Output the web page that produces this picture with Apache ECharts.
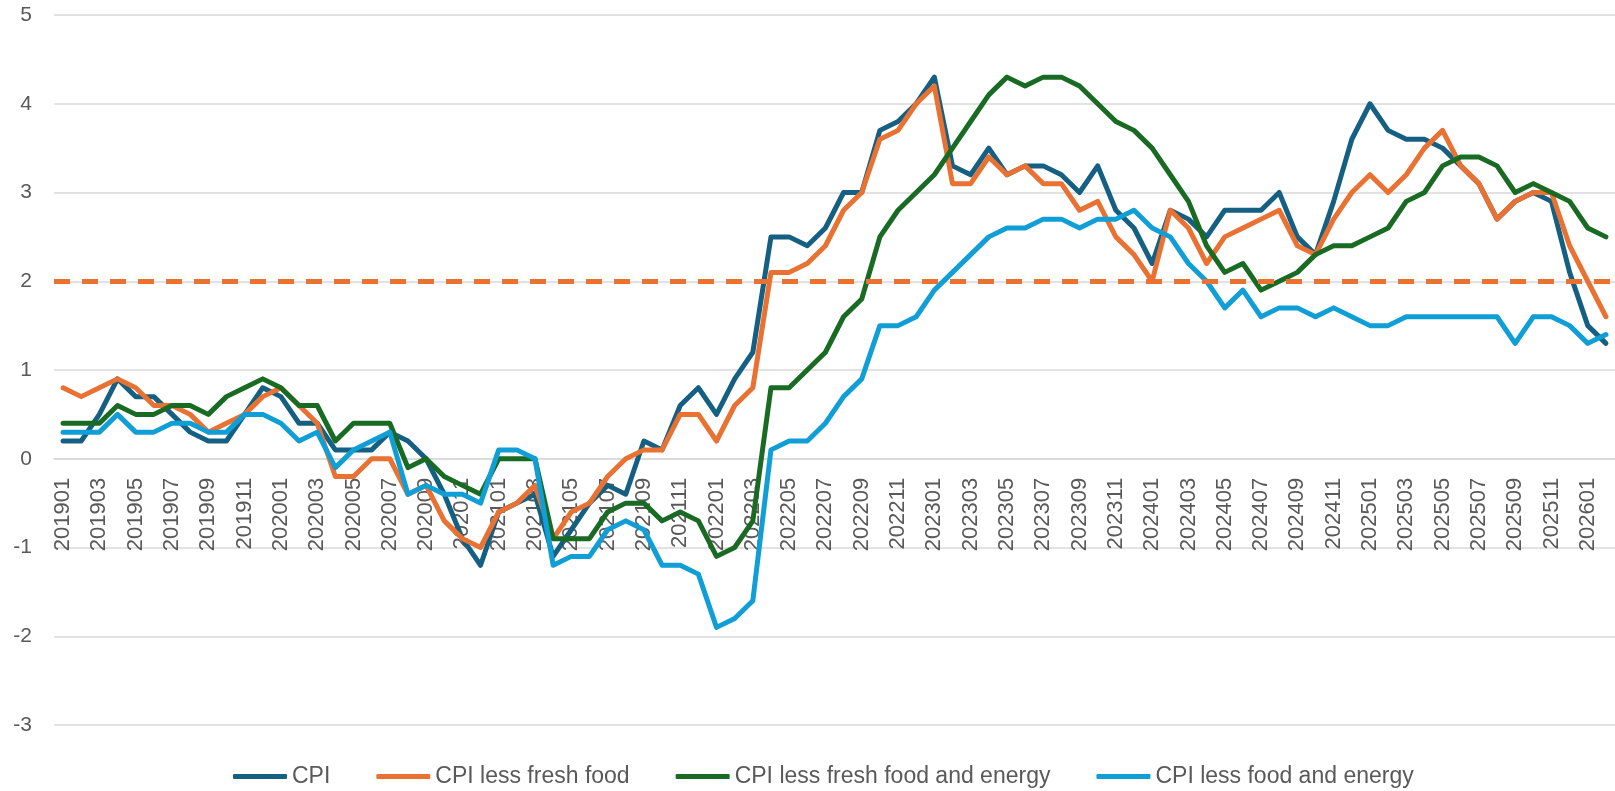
<!DOCTYPE html>
<html>
<head>
<meta charset="utf-8">
<title>CPI</title>
<script src="https://cdn.jsdelivr.net/npm/echarts@6/dist/echarts.min.js"></script>
<style>
  html, body { margin: 0; padding: 0; background: #fff; }
  #main { width: 1615px; height: 791px; }
</style>
</head>
<body>
<div id="main"></div>
<script>
// months 201901 .. 202602
var months = [];
for (var y = 2019; y <= 2026; y++) {
  for (var m = 1; m <= 12; m++) {
    if (y === 2026 && m > 2) break;
    months.push('' + y + (m < 10 ? '0' + m : m));
  }
}

var cpi = [
  0.2, 0.2, 0.5, 0.9, 0.7, 0.7, 0.5, 0.3, 0.2, 0.2, 0.5, 0.8,
  0.7, 0.4, 0.4, 0.1, 0.1, 0.1, 0.3, 0.2, 0.0, -0.4, -0.9, -1.2,
  -0.6, -0.5, -0.4, -1.1, -0.8, -0.5, -0.3, -0.4, 0.2, 0.1, 0.6, 0.8,
  0.5, 0.9, 1.2, 2.5, 2.5, 2.4, 2.6, 3.0, 3.0, 3.7, 3.8, 4.0,
  4.3, 3.3, 3.2, 3.5, 3.2, 3.3, 3.3, 3.2, 3.0, 3.3, 2.8, 2.6,
  2.2, 2.8, 2.7, 2.5, 2.8, 2.8, 2.8, 3.0, 2.5, 2.3, 2.9, 3.6,
  4.0, 3.7, 3.6, 3.6, 3.5, 3.3, 3.1, 2.7, 2.9, 3.0, 2.9, 2.1,
  1.5, 1.3
];
var lessFresh = [
  0.8, 0.7, 0.8, 0.9, 0.8, 0.6, 0.6, 0.5, 0.3, 0.4, 0.5, 0.7,
  0.8, 0.6, 0.4, -0.2, -0.2, 0.0, 0.0, -0.4, -0.3, -0.7, -0.9, -1.0,
  -0.6, -0.5, -0.3, -0.9, -0.6, -0.5, -0.2, 0.0, 0.1, 0.1, 0.5, 0.5,
  0.2, 0.6, 0.8, 2.1, 2.1, 2.2, 2.4, 2.8, 3.0, 3.6, 3.7, 4.0,
  4.2, 3.1, 3.1, 3.4, 3.2, 3.3, 3.1, 3.1, 2.8, 2.9, 2.5, 2.3,
  2.0, 2.8, 2.6, 2.2, 2.5, 2.6, 2.7, 2.8, 2.4, 2.3, 2.7, 3.0,
  3.2, 3.0, 3.2, 3.5, 3.7, 3.3, 3.1, 2.7, 2.9, 3.0, 3.0, 2.4,
  2.0, 1.6
];
var lessFreshEnergy = [
  0.4, 0.4, 0.4, 0.6, 0.5, 0.5, 0.6, 0.6, 0.5, 0.7, 0.8, 0.9,
  0.8, 0.6, 0.6, 0.2, 0.4, 0.4, 0.4, -0.1, 0.0, -0.2, -0.3, -0.4,
  0.0, 0.0, 0.0, -0.9, -0.9, -0.9, -0.6, -0.5, -0.5, -0.7, -0.6, -0.7,
  -1.1, -1.0, -0.7, 0.8, 0.8, 1.0, 1.2, 1.6, 1.8, 2.5, 2.8, 3.0,
  3.2, 3.5, 3.8, 4.1, 4.3, 4.2, 4.3, 4.3, 4.2, 4.0, 3.8, 3.7,
  3.5, 3.2, 2.9, 2.4, 2.1, 2.2, 1.9, 2.0, 2.1, 2.3, 2.4, 2.4,
  2.5, 2.6, 2.9, 3.0, 3.3, 3.4, 3.4, 3.3, 3.0, 3.1, 3.0, 2.9,
  2.6, 2.5
];
var lessFoodEnergy = [
  0.3, 0.3, 0.3, 0.5, 0.3, 0.3, 0.4, 0.4, 0.3, 0.3, 0.5, 0.5,
  0.4, 0.2, 0.3, -0.1, 0.1, 0.2, 0.3, -0.4, -0.3, -0.4, -0.4, -0.5,
  0.1, 0.1, 0.0, -1.2, -1.1, -1.1, -0.8, -0.7, -0.8, -1.2, -1.2, -1.3,
  -1.9, -1.8, -1.6, 0.1, 0.2, 0.2, 0.4, 0.7, 0.9, 1.5, 1.5, 1.6,
  1.9, 2.1, 2.3, 2.5, 2.6, 2.6, 2.7, 2.7, 2.6, 2.7, 2.7, 2.8,
  2.6, 2.5, 2.2, 2.0, 1.7, 1.9, 1.6, 1.7, 1.7, 1.6, 1.7, 1.6,
  1.5, 1.5, 1.6, 1.6, 1.6, 1.6, 1.6, 1.6, 1.3, 1.6, 1.6, 1.5,
  1.3, 1.4
];
var seriesNames = ['CPI', 'CPI less fresh food', 'CPI less fresh food and energy', 'CPI less food and energy'];
var colors = ['#156082', '#E97132', '#196B24', '#0F9ED5'];
var target = 2;   // dashed reference line
var yMin = -3, yMax = 5;

var font = 'Liberation Sans, Arial, sans-serif';
var txt = '#595959';

// plot area
var gridTop = 15, gridBottom = 66, chartH = 791;
var plotH = chartH - gridTop - gridBottom;
// category labels sit on the zero line, not at the bottom of the plot
var zeroOffset = -(0 - yMin) * plotH / (yMax - yMin);

function lineSeries(name, data, color) {
  return {
    name: name,
    type: 'line',
    data: data,
    symbol: 'none',
    lineStyle: { width: 5, color: color, cap: 'round', join: 'round' },
    itemStyle: { color: color }
  };
}

var series = [
  lineSeries(seriesNames[0], cpi, colors[0]),
  lineSeries(seriesNames[1], lessFresh, colors[1]),
  lineSeries(seriesNames[2], lessFreshEnergy, colors[2]),
  lineSeries(seriesNames[3], lessFoodEnergy, colors[3])
];
// 2% line drawn on top of everything
series[3].markLine = {
  silent: true,
  symbol: ['none', 'none'],
  label: { show: false },
  lineStyle: { color: colors[1], width: 5, type: [16, 12] },
  data: [{ yAxis: target }]
};

var chart = echarts.init(document.getElementById('main'));
chart.setOption({
  backgroundColor: '#fff',
  animation: false,
  textStyle: { fontFamily: font },
  grid: { left: 54, top: gridTop, bottom: gridBottom, width: 1565 },
  legend: {
    data: seriesNames,
    left: 228,
    top: 760,
    itemWidth: 54,
    itemHeight: 5,
    itemGap: 46,
    icon: 'roundRect',
    textStyle: { color: txt, fontSize: 23, fontFamily: font }
  },
  xAxis: {
    type: 'category',
    data: months,
    boundaryGap: true,
    position: 'bottom',
    offset: zeroOffset,
    axisLine: { onZero: false, lineStyle: { color: '#d9d9d9', width: 1.5 } },
    axisTick: { show: false },
    axisLabel: { interval: 1, rotate: 90, margin: 19, color: txt, fontSize: 22, fontFamily: font }
  },
  yAxis: {
    type: 'value',
    min: yMin,
    max: yMax,
    interval: 1,
    axisLine: { show: false },
    axisTick: { show: false },
    axisLabel: { margin: 22, color: txt, fontSize: 21, fontFamily: font },
    splitLine: { lineStyle: { color: '#d9d9d9', width: 1.5 } }
  },
  series: series
});
</script>
</body>
</html>
